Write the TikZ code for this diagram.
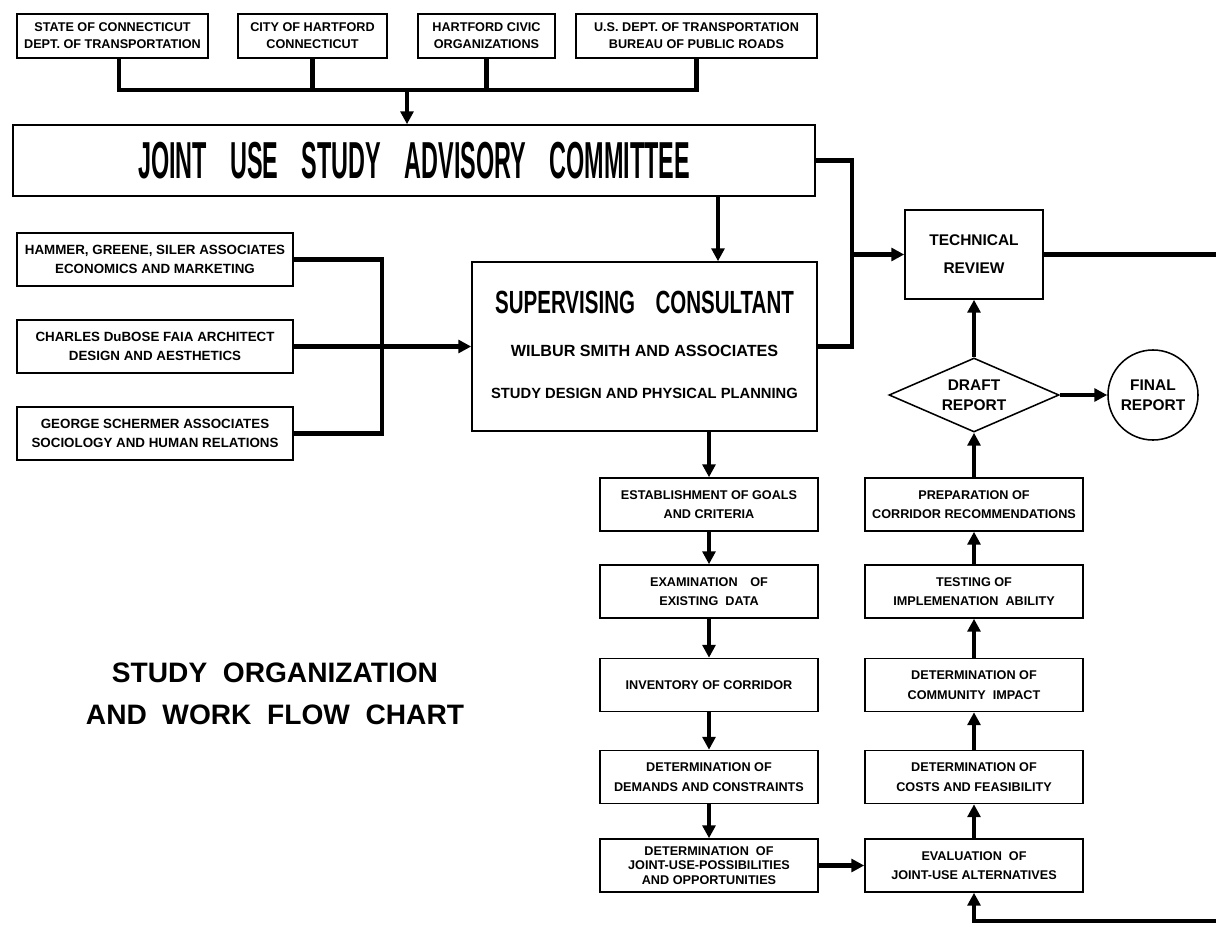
\documentclass[tikz,border=0pt]{standalone}
\usepackage{fontspec}
\setmainfont{Liberation Sans}
\usepackage{graphicx}
\usetikzlibrary{arrows.meta, shapes.geometric, positioning}

\newcommand{\squeeze}[2]{\scalebox{#1}[1]{#2}}

\begin{document}
\begin{tikzpicture}[x=0.025cm, y=-0.025cm,
    box/.style={draw, line width=1.1pt, align=center, inner sep=0pt,
      font=\bfseries\fontsize{9}{14}\selectfont},
    topbox/.style={box, minimum height=1.1cm,
      font=\bfseries\fontsize{9}{12}\selectfont},
    sidebox/.style={box, minimum width=6.9cm, minimum height=1.325cm,
      font=\bfseries\fontsize{9.5}{14}\selectfont},
    flowbox/.style={box, minimum width=5.45cm, minimum height=1.325cm},
    link/.style={line width=3.2pt},
    flow/.style={link, -{Triangle[length=3.2mm, width=3.2mm]}}]

    \useasboundingbox (0,0) rectangle (1216,927);
    \fill[white] (0,0) rectangle (1216,927);

    % sponsoring agencies
    \node[topbox, minimum width=4.775cm] (state) at (112.5,36) {STATE OF CONNECTICUT\\DEPT. OF TRANSPORTATION};
    \node[topbox, minimum width=3.725cm] (city) at (312.5,36) {CITY OF HARTFORD\\CONNECTICUT};
    \node[topbox, minimum width=3.425cm] (civic) at (486.5,36) {HARTFORD CIVIC\\ORGANIZATIONS};
    \node[topbox, minimum width=6.025cm] (usdot) at (696.5,36) {U.S. DEPT. OF TRANSPORTATION\\BUREAU OF PUBLIC ROADS};

    % advisory committee
    \node[box, minimum width=20.05cm, minimum height=1.775cm] (joint) at (414,160.5)
      {\squeeze{0.45}{\fontsize{37}{40}\selectfont JOINT\quad USE\quad STUDY\quad ADVISORY\quad COMMITTEE}};

    \coordinate (topbus) at (407,90);
    \draw[link] ([xshift=0.16cm]state.south) |- (topbus) -| (usdot.south);
    \draw[link] (city.south) -- (city.south |- topbus);
    \draw[link] (civic.south) -- (civic.south |- topbus);
    \draw[flow] (topbus) -- (topbus |- joint.north);

    % consultants
    \node[sidebox] (hammer) at (155,259.5) {HAMMER, GREENE, SILER ASSOCIATES\\ECONOMICS AND MARKETING};
    \node[sidebox] (charles) at (155,346.5) {CHARLES DuBOSE FAIA ARCHITECT\\DESIGN AND AESTHETICS};
    \node[sidebox] (george) at (155,433.5) {GEORGE SCHERMER ASSOCIATES\\SOCIOLOGY AND HUMAN RELATIONS};

    \node[box, minimum width=8.625cm, minimum height=4.225cm] (sup) at (644.5,346.5) {};
    \node[font=\bfseries] (suphead) at (644.5,302)
      {\squeeze{0.64}{\fontsize{22.8}{24}\selectfont SUPERVISING\quad CONSULTANT}};
    \node[font=\bfseries\fontsize{11.5}{13}\selectfont] (supfirm) at (644.5,351) {WILBUR SMITH AND ASSOCIATES};
    \node[font=\bfseries\fontsize{10.5}{12}\selectfont] (suptask) at (644.5,393) {STUDY DESIGN AND PHYSICAL PLANNING};

    \coordinate (sidebus) at (382,346.5);
    \draw[link] (hammer.east) -| (sidebus) |- (george.east);
    \draw[flow] (charles.east) -- (sup.west);

    % review and reports
    \node[box, minimum width=3.45cm, minimum height=2.225cm,
      font=\bfseries\fontsize{11}{20}\selectfont] (tech) at (974,254.5) {TECHNICAL\\REVIEW};
    \node[draw, diamond, aspect=2.3, line width=1.1pt, inner sep=0pt, align=center,
      minimum width=4.25cm, minimum height=1.85cm,
      font=\bfseries\fontsize{11}{14}\selectfont] (draft) at (974,395) {DRAFT\\REPORT};
    \node[draw, circle, line width=1.1pt, inner sep=0pt, align=center, minimum size=2.25cm,
      font=\bfseries\fontsize{11}{14}\selectfont] (final) at (1153,395) {FINAL\\REPORT};

    \coordinate (rbus) at (852,254.5);
    \coordinate (techout) at (1230,254.5);
    \draw[link] (joint.east) -| (rbus) |- (sup.east);
    \draw[flow] (rbus) -- (tech.west);
    \draw[link] (tech.east) -- (techout);
    \draw[flow] (draft.north) -- (tech.south);
    \draw[flow] (draft.east) -- (final.west);
    \draw[flow] (joint.south -| 718,0) -- (sup.north -| 718,0);

    % work flow, first column
    \node[flowbox] (goals) at (709,504.5) {ESTABLISHMENT OF GOALS\\AND CRITERIA};
    \node[flowbox] (exam) at (709,591.5) {EXAMINATION\quad OF\\EXISTING\ \ DATA};
    \node[flowbox] (inv) at (709,685) {INVENTORY OF CORRIDOR};
    \node[flowbox] (dem) at (709,777) {DETERMINATION OF\\DEMANDS AND CONSTRAINTS};
    \node[flowbox, font=\bfseries\fontsize{9}{10.5}\selectfont] (poss) at (709,865.5)
      {DETERMINATION\ \ OF\\JOINT-USE-POSSIBILITIES\\AND OPPORTUNITIES};

    \draw[flow] (sup.south -| goals.north) -- (goals.north);
    \draw[flow] (goals) -- (exam);
    \draw[flow] (exam) -- (inv);
    \draw[flow] (inv) -- (dem);
    \draw[flow] (dem) -- (poss);

    % work flow, second column
    \node[flowbox] (eval) at (974,865.5) {EVALUATION\ \ OF\\JOINT-USE ALTERNATIVES};
    \node[flowbox] (costs) at (974,777) {DETERMINATION OF\\COSTS AND FEASIBILITY};
    \node[flowbox] (impact) at (974,685) {DETERMINATION OF\\COMMUNITY\ \ IMPACT};
    \node[flowbox] (test) at (974,591.5) {TESTING OF\\IMPLEMENATION\ \ ABILITY};
    \node[flowbox] (prep) at (974,504.5) {PREPARATION OF\\CORRIDOR RECOMMENDATIONS};

    \draw[flow] (poss) -- (eval);
    \draw[flow] (eval) -- (costs);
    \draw[flow] (costs) -- (impact);
    \draw[flow] (impact) -- (test);
    \draw[flow] (test) -- (prep);
    \draw[flow] (prep) -- (draft.south);

    \coordinate (loopin) at (1230,921);
    \draw[flow] (loopin) -| (eval.south);

    % chart title
    \node[font=\bfseries\fontsize{20}{29.5}\selectfont, align=center] (title) at (275,694)
      {STUDY\ \ ORGANIZATION\\AND\ \ WORK\ \ FLOW\ \ CHART};
\end{tikzpicture}
\end{document}
